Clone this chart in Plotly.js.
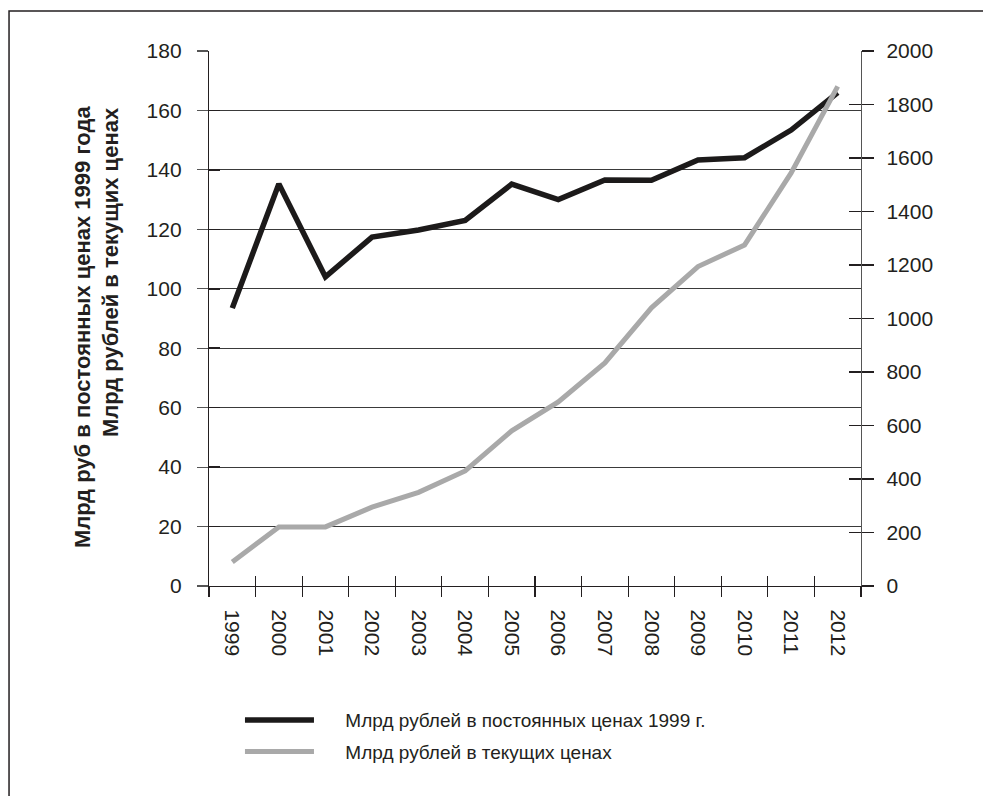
<!DOCTYPE html>
<html>
<head>
<meta charset="utf-8">
<script src="https://cdn.plot.ly/plotly-3.0.1.min.js"></script>
<style>html,body{margin:0;padding:0;background:#fff;}#chart{width:983px;height:796px;}</style>
</head>
<body>
<div id="chart"></div>
<script>
const years = ['1999','2000','2001','2002','2003','2004','2005','2006','2007','2008','2009','2010','2011','2012'];
const constPrices = [93.5, 135.3, 104, 117.4, 119.8, 123, 135.2, 130, 136.6, 136.5, 143.3, 144.1, 153.4, 166];
const currentPrices = [90, 221, 221, 295, 350, 430, 580, 688, 834, 1040, 1194, 1275, 1544, 1868];
const nameConst = 'Млрд рублей в постоянных ценах 1999 г.';
const nameCurrent = 'Млрд рублей в текущих ценах';
const yTitle1 = 'Млрд руб в постоянных ценах 1999 года';
const yTitle2 = 'Млрд рублей в текущих ценах';

const FONT = 'Liberation Sans, Arial, sans-serif';
const PAD = '\u00a0\u00a0\u00a0\u00a0\u00a0';
const traces = [
  {x: years, y: constPrices, name: PAD + nameConst, type: 'scatter', mode: 'lines',
   line: {color: '#1c1a1a', width: 5.5}, xaxis: 'x', yaxis: 'y', legendgroup: 'a', hoverinfo: 'x+y'},
  {x: years, y: currentPrices, name: PAD + nameCurrent, type: 'scatter', mode: 'lines',
   line: {color: '#a9a9a9', width: 5}, xaxis: 'x', yaxis: 'y2', legendgroup: 'b', hoverinfo: 'x+y'},
  // helper traces so that overlay axes (inside tick marks) get drawn
  {x: years, y: constPrices, type: 'scatter', mode: 'lines', line: {width: 0, color: 'rgba(0,0,0,0)'},
   xaxis: 'x2', yaxis: 'y3', showlegend: false, hoverinfo: 'skip'},
  {x: years, y: currentPrices, type: 'scatter', mode: 'lines', line: {width: 0, color: 'rgba(0,0,0,0)'},
   xaxis: 'x2', yaxis: 'y4', showlegend: false, hoverinfo: 'skip'}
];

const tickFont = {family: FONT, size: 21, color: '#231f20'};
const titleFont = {family: FONT, size: 22, color: '#231f20', weight: 'bold'};
const layout = {
  width: 983, height: 796,
  margin: {l: 209, r: 122, t: 51, b: 210, pad: 0},
  paper_bgcolor: '#fff', plot_bgcolor: '#fff',
  font: {family: FONT, color: '#231f20'},
  showlegend: true,
  legend: {x: 0.0475, y: -0.215, xanchor: 'left', yanchor: 'top', orientation: 'v',
           font: {family: FONT, size: 19, color: '#231f20'}, tracegroupgap: 4,
           itemwidth: 69, bgcolor: 'rgba(0,0,0,0)'},
  xaxis: {type: 'category', tickson: 'boundaries', ticks: 'outside', ticklen: 10, tickwidth: 1.2,
          tickcolor: '#231f20', tickangle: 90, tickfont: tickFont, showgrid: false,
          showline: true, linecolor: '#231f20', linewidth: 1.2, zeroline: false,
          range: [-0.5, 13.5], ticklabelstandoff: 18},
  xaxis2: {type: 'category', overlaying: 'x', tickson: 'boundaries', ticks: 'inside', ticklen: 10,
           tickwidth: 1.2, tickcolor: '#231f20', showticklabels: false, showgrid: false,
           showline: false, zeroline: false, range: [-0.5, 13.5], anchor: 'y'},
  yaxis: {range: [0, 180], dtick: 20, tick0: 0, ticks: 'outside', ticklen: 11, tickwidth: 1.2,
          tickcolor: '#555', tickfont: tickFont, showgrid: true, gridcolor: '#3a3a3a', gridwidth: 1.2,
          showline: true, linecolor: '#231f20', linewidth: 1.2, zeroline: false,
          ticklabelstandoff: 11},
  yaxis3: {range: [0, 180], dtick: 20, tick0: 0, overlaying: 'y', side: 'left', ticks: 'inside',
           ticklen: 11, tickwidth: 1.5, tickcolor: '#231f20', showticklabels: false,
           showgrid: false, showline: false, zeroline: false, anchor: 'x'},
  yaxis2: {range: [0, 2000], dtick: 200, tick0: 0, overlaying: 'y', side: 'right', ticks: 'outside',
           ticklen: 12, tickwidth: 1.2, tickcolor: '#231f20', tickfont: tickFont, showgrid: false,
           showline: true, linecolor: '#555', linewidth: 1.2, zeroline: false, ticklabelstandoff: 8},
  yaxis4: {range: [0, 2000], dtick: 200, tick0: 0, overlaying: 'y', side: 'right', ticks: 'inside',
           ticklen: 12, tickwidth: 1.2, tickcolor: '#231f20', showticklabels: false,
           showgrid: false, showline: false, zeroline: false, anchor: 'x'},
  annotations: [
    {text: yTitle1, xref: 'paper', yref: 'paper', x: -0.1947, y: 0.484, xanchor: 'center', yanchor: 'middle',
     textangle: -90, showarrow: false, font: titleFont},
    {text: yTitle2, xref: 'paper', yref: 'paper', x: -0.1503, y: 0.587, xanchor: 'center', yanchor: 'middle',
     textangle: -90, showarrow: false, font: titleFont}
  ],
  shapes: [
    {type: 'rect', xref: 'paper', yref: 'paper', x0: -0.3067, x1: 1.35, y0: -0.45, y1: 1.0748,
     line: {color: '#231f20', width: 1.5}, fillcolor: 'rgba(0,0,0,0)', layer: 'below'}
  ]
};

Plotly.newPlot('chart', traces, layout, {staticPlot: true, displayModeBar: false});
</script>
</body>
</html>
